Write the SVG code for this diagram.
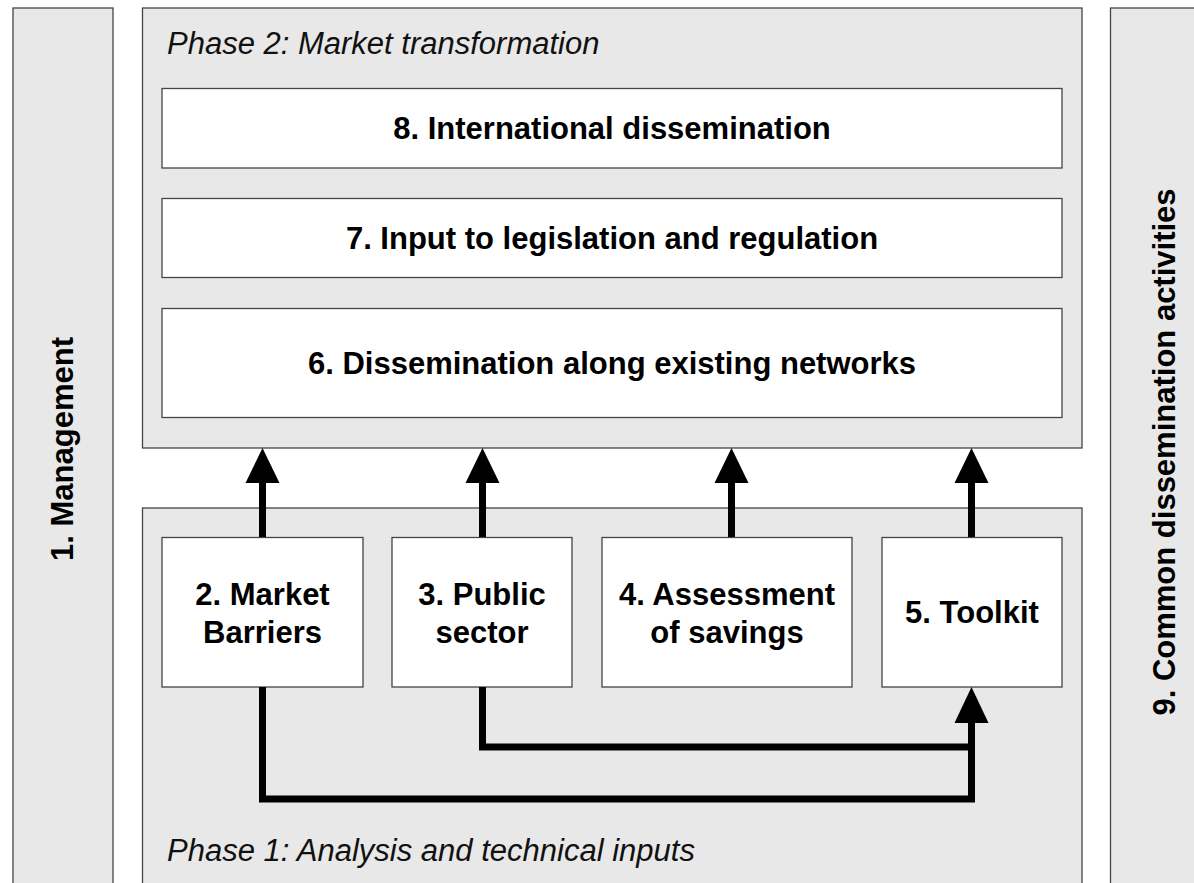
<svg xmlns="http://www.w3.org/2000/svg" width="1194" height="883" viewBox="0 0 1194 883">
<style>
.panel{fill:#e8e8e8;stroke:#444;stroke-width:1.3}
.box{fill:#fff;stroke:#444;stroke-width:1.3}
.b{font-family:"Liberation Sans",Arial,sans-serif;font-weight:bold;font-size:31px;fill:#000;text-anchor:middle}
.i{font-family:"Liberation Sans",Arial,sans-serif;font-style:italic;font-size:31px;fill:#111}
.ln{fill:none;stroke:#000;stroke-width:7;stroke-linejoin:miter;stroke-linecap:butt}
.ah{fill:#000}
</style>
<rect width="1194" height="883" fill="#fff"/>
<g id="management">
<rect class="panel" x="13" y="8" width="100" height="890"/>
<text class="b" transform="translate(73,449) rotate(-90)">1. Management</text>
</g>
<g id="common-dissemination">
<rect class="panel" x="1110.5" y="8" width="100" height="890"/>
<text class="b" transform="translate(1175,452) rotate(-90)">9. Common dissemination activities</text>
</g>
<g id="phase2">
<rect class="panel" x="142.5" y="8" width="939.5" height="440"/>
<text class="i" x="167" y="54">Phase 2: Market transformation</text>
</g>
<g id="node8">
<rect class="box" x="162" y="88.5" width="900" height="79.5"/>
<text class="b" x="612" y="139">8. International dissemination</text>
</g>
<g id="node7">
<rect class="box" x="162" y="198.5" width="900" height="79"/>
<text class="b" x="612" y="249">7. Input to legislation and regulation</text>
</g>
<g id="node6">
<rect class="box" x="162" y="308.5" width="900" height="109"/>
<text class="b" x="612" y="374">6. Dissemination along existing networks</text>
</g>
<g id="phase1">
<rect class="panel" x="142.5" y="508" width="939.5" height="390"/>
<text class="i" x="167" y="861">Phase 1: Analysis and technical inputs</text>
</g>
<g id="node2">
<rect class="box" x="162" y="537.5" width="201" height="149.5"/>
<text class="b" x="262.5" y="605">2. Market</text>
<text class="b" x="262.5" y="643">Barriers</text>
</g>
<g id="node3">
<rect class="box" x="392" y="537.5" width="180" height="149.5"/>
<text class="b" x="482" y="605">3. Public</text>
<text class="b" x="482" y="643">sector</text>
</g>
<g id="node4">
<rect class="box" x="602" y="537.5" width="250" height="149.5"/>
<text class="b" x="727" y="605">4. Assessment</text>
<text class="b" x="727" y="643">of savings</text>
</g>
<g id="node5">
<rect class="box" x="882" y="537.5" width="180" height="149.5"/>
<text class="b" x="972" y="623">5. Toolkit</text>
</g>
<g id="connectors">
<path class="ln" d="M262.5 537 V482"/>
<polygon class="ah" points="262.5,448 245.5,483 279.5,483"/>
<path class="ln" d="M482.5 537 V482"/>
<polygon class="ah" points="482.5,448 465.5,483 499.5,483"/>
<path class="ln" d="M731.5 537 V482"/>
<polygon class="ah" points="731.5,448 714.5,483 748.5,483"/>
<path class="ln" d="M971.5 537 V482"/>
<polygon class="ah" points="971.5,448 954.5,483 988.5,483"/>
<path class="ln" d="M482.5 687 V747 H971.5"/>
<path class="ln" d="M262.5 687 V799 H971.5 V722"/>
<polygon class="ah" points="971.5,687 954.5,723 988.5,723"/>
</g>
</svg>
